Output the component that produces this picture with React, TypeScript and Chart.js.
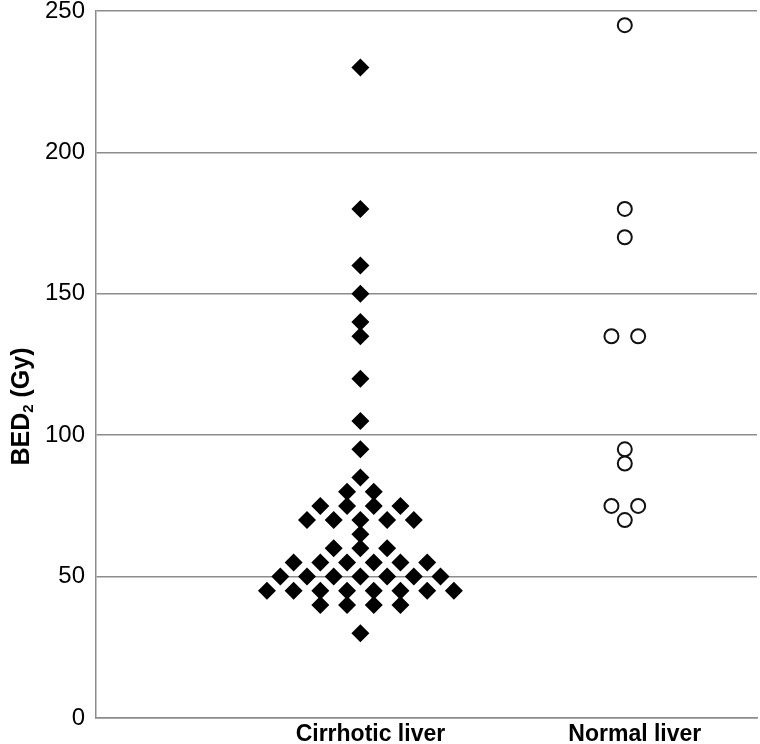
import React, { useEffect, useRef } from 'react';
import { Chart, registerables } from 'chart.js';

Chart.register(...registerables);

const categories = ['Cirrhotic liver', 'Normal liver'];

const cirrhoticValues = [
  230, 180, 160, 150, 140, 135, 120, 105, 95, 85,
  80, 80,
  75, 75, 75, 75,
  70, 70, 70, 70, 70,
  65,
  60, 60, 60,
  55, 55, 55, 55, 55, 55,
  50, 50, 50, 50, 50, 50, 50,
  45, 45, 45, 45, 45, 45, 45, 45,
  40, 40, 40, 40,
  30,
];

const normalValues = [245, 180, 170, 135, 135, 95, 90, 75, 75, 70];

const yTicks = [0, 50, 100, 150, 200, 250];

const yTitleMain = 'BED';
const yTitleSub = '2';
const yTitleUnit = ' (Gy)';

const FONT = "'Liberation Sans', Arial, Helvetica, sans-serif";
const GRID = '#8c8c8c';

// beeswarm: equal values are spread symmetrically around the category centre
function swarm(values: number[], center: number, step: number) {
  const counts = new Map<number, number>();
  values.forEach((v) => counts.set(v, (counts.get(v) || 0) + 1));
  const seen = new Map<number, number>();
  return values.map((v) => {
    const n = counts.get(v) || 1;
    const i = seen.get(v) || 0;
    seen.set(v, i + 1);
    return { x: center + (i - (n - 1) / 2) * step, y: v };
  });
}

const yTitlePlugin = {
  id: 'yTitleSub',
  afterDraw(chart: any) {
    const { ctx, chartArea } = chart;
    const mainFont = `bold 25px ${FONT}`;
    const subFont = `bold 15px ${FONT}`;
    ctx.save();
    ctx.font = mainFont;
    const w1 = ctx.measureText(yTitleMain).width;
    const w3 = ctx.measureText(yTitleUnit).width;
    ctx.font = subFont;
    const w2 = ctx.measureText(yTitleSub).width;
    const total = w1 + w2 + w3;
    const cy = (chartArea.top + chartArea.bottom) / 2 + 42;
    ctx.translate(28.5, cy);
    ctx.rotate(-Math.PI / 2);
    ctx.fillStyle = '#000';
    ctx.textBaseline = 'alphabetic';
    ctx.textAlign = 'left';
    let x = -total / 2;
    ctx.font = mainFont;
    ctx.fillText(yTitleMain, x, 0);
    x += w1;
    ctx.font = subFont;
    ctx.fillText(yTitleSub, x, 4);
    x += w2;
    ctx.font = mainFont;
    ctx.fillText(yTitleUnit, x, 0);
    ctx.restore();
  },
};

export default function App() {
  const canvasRef = useRef<HTMLCanvasElement | null>(null);

  useEffect(() => {
    document.body.style.margin = '0';
    const canvas = canvasRef.current;
    if (!canvas) return;
    const step = 0.101;
    const chart = new Chart(canvas, {
      type: 'scatter',
      data: {
        datasets: [
          {
            label: categories[0],
            data: swarm(cirrhoticValues, 1, step),
            pointStyle: 'rectRot',
            pointRadius: 9,
            pointBackgroundColor: '#000',
            pointBorderColor: '#000',
            pointBorderWidth: 0,
          },
          {
            label: categories[1],
            data: swarm(normalValues, 2, step),
            pointStyle: 'circle',
            pointRadius: 7,
            pointBackgroundColor: '#fff',
            pointBorderColor: '#111',
            pointBorderWidth: 2,
          },
        ],
      },
      options: {
        animation: false,
        responsive: false,
        layout: { autoPadding: false, padding: { top: 11, right: 3, left: 0, bottom: 0 } },
        plugins: {
          legend: { display: false },
          tooltip: { enabled: false },
          title: { display: false },
        },
        scales: {
          x: {
            type: 'linear',
            min: 0,
            max: 2.5,
            afterBuildTicks: (s: any) => {
              s.ticks = categories.map((_, i) => ({ value: i + 1 }));
            },
            afterFit: (s: any) => {
              s.height = 26;
              s.paddingLeft = 0;
              s.paddingRight = 0;
            },
            ticks: {
              callback: (v: any) => categories[Math.round(Number(v)) - 1] || '',
              font: { family: FONT, size: 23, weight: 'bold', lineHeight: 1 },
              color: '#000',
              padding: 5,
              labelOffset: 10,
              maxRotation: 0,
              autoSkip: false,
            },
            grid: { display: false, drawTicks: false },
            border: { display: true, color: GRID, width: 1.5 },
          },
          y: {
            type: 'linear',
            min: 0,
            max: 250,
            afterBuildTicks: (s: any) => {
              s.ticks = yTicks.map((v) => ({ value: v }));
            },
            afterFit: (s: any) => {
              s.width = 96;
              s.paddingTop = 0;
              s.paddingBottom = 0;
            },
            ticks: {
              font: { family: FONT, size: 24, lineHeight: 0.9 },
              color: '#000',
              padding: 11,
            },
            grid: { color: GRID, lineWidth: 1.5, drawTicks: false },
            border: { display: true, color: GRID, width: 1.5 },
          },
        },
      },
      plugins: [yTitlePlugin],
    });
    return () => chart.destroy();
  }, []);

  return (
    <div style={{ width: 760, height: 744, background: '#fff' }}>
      <canvas ref={canvasRef} width={760} height={744} />
    </div>
  );
}
